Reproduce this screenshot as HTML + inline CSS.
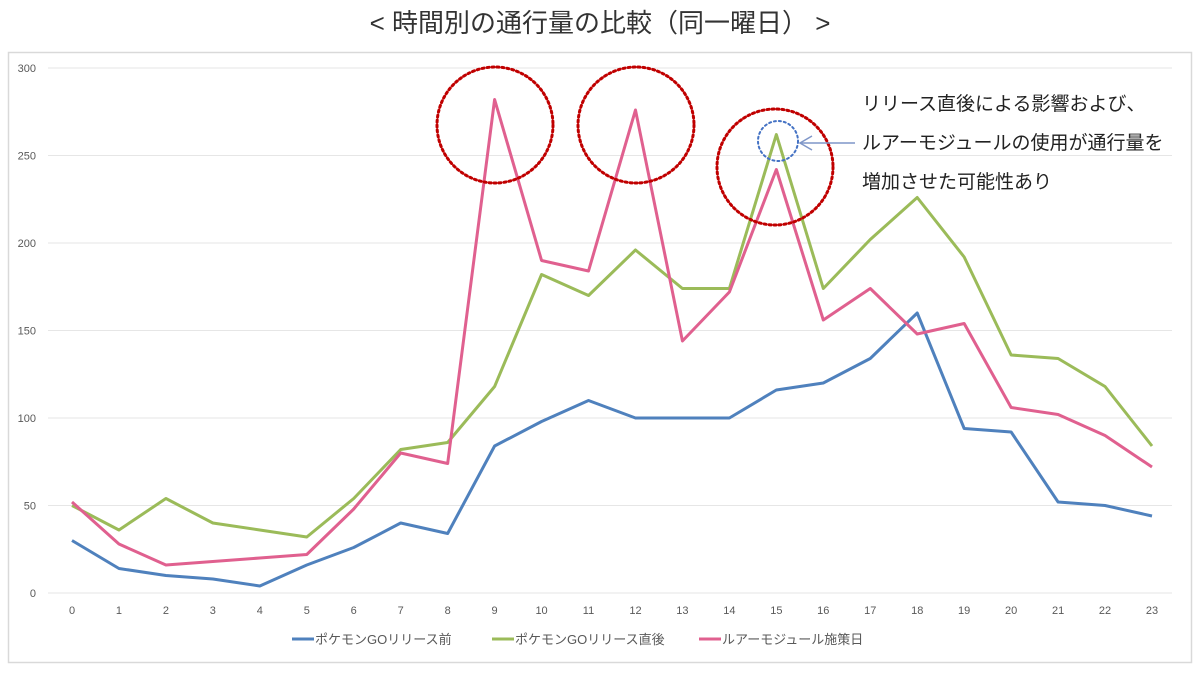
<!DOCTYPE html>
<html><head><meta charset="utf-8"><style>
body{margin:0;background:#fff;width:1200px;height:668px;overflow:hidden;font-family:"Liberation Sans","Noto Sans CJK JP",sans-serif}
</style></head><body>
<svg id="chart" width="1200" height="668" xmlns="http://www.w3.org/2000/svg" font-family="Liberation Sans, Noto Sans CJK JP, sans-serif">
<text x="600" y="32" text-anchor="middle" font-size="26" fill="#333">&lt; 時間別の通行量の比較（同一曜日） &gt;</text>
<rect x="8.5" y="52.5" width="1183" height="610" fill="none" stroke="#d9d9d9" stroke-width="1.5"/>
<g id="grid"></g><g id="series"></g>
<g fill="none" stroke-dasharray="2,3" stroke-linecap="round">
<circle cx="495" cy="125" r="58" stroke="#c00000" stroke-width="3"/>
<circle cx="636" cy="125" r="58" stroke="#c00000" stroke-width="3"/>
<circle cx="775" cy="167" r="58" stroke="#c00000" stroke-width="3"/>
<circle cx="778" cy="141" r="20" stroke="#4472c4" stroke-width="2"/>
</g>
<line x1="855" y1="143" x2="800" y2="143" stroke="#7f96c8" stroke-width="1.5"/>
<polyline points="812,136 800,143 812,150" fill="none" stroke="#7f96c8" stroke-width="1.5"/>
<g font-size="19" fill="#222">
<text x="862" y="110">リリース直後による影響および、</text>
<text x="862" y="149">ルアーモジュールの使用が通行量を</text>
<text x="862" y="188">増加させた可能性あり</text>
</g>
<g id="legend" font-size="13" fill="#595959"></g>
</svg>
<script>
const hours=[0,1,2,3,4,5,6,7,8,9,10,11,12,13,14,15,16,17,18,19,20,21,22,23];
const yTicks=[0,50,100,150,200,250,300];
const seriesNames=["ポケモンGOリリース前","ポケモンGOリリース直後","ルアーモジュール施策日"];
const beforeRelease=[30,14,10,8,4,16,26,40,34,84,98,110,100,100,100,116,120,134,160,94,92,52,50,44];
const afterRelease=[50,36,54,40,36,32,54,82,86,118,182,170,196,174,174,262,174,202,226,192,136,134,118,84];
const lureDay=[52,28,16,18,20,22,48,80,74,282,190,184,276,144,172,242,156,174,148,154,106,102,90,72];
const colors=["#4f81bd","#9bbb59","#e0608f"];
const NS="http://www.w3.org/2000/svg";
const xs=i=>72+i*(1152-72)/23;
const ys=v=>593-v*(593-68)/300;
const grid=document.getElementById('grid');
yTicks.forEach(t=>{
 const l=document.createElementNS(NS,'line');
 
 
 l.setAttribute('x1',48);l.setAttribute('x2',1172);l.setAttribute('y1',ys(t));l.setAttribute('y2',ys(t));
 l.setAttribute('stroke','#e6e6e6');l.setAttribute('stroke-width',1);
 grid.appendChild(l);
 const tx=document.createElementNS(NS,'text');
 
 
 tx.setAttribute('x',36);tx.setAttribute('y',ys(t)+4);tx.setAttribute('text-anchor','end');
 tx.setAttribute('font-size',11);tx.setAttribute('fill','#595959');tx.textContent=t;
 grid.appendChild(tx);
});
hours.forEach((h,i)=>{
 const tx=document.createElementNS(NS,'text');
 
 
 tx.setAttribute('x',xs(i));tx.setAttribute('y',614);tx.setAttribute('text-anchor','middle');
 tx.setAttribute('font-size',11);tx.setAttribute('fill','#595959');tx.textContent=h;
 grid.appendChild(tx);
});
const sg=document.getElementById('series');
[beforeRelease,afterRelease,lureDay].forEach((d,k)=>{
 const p=document.createElementNS(NS,'polyline');
 
 
 p.setAttribute('points',d.map((v,i)=>xs(i)+','+ys(v)).join(' '));
 p.setAttribute('fill','none');p.setAttribute('stroke',colors[k]);p.setAttribute('stroke-width',3);
 p.setAttribute('stroke-linejoin','round');
 sg.appendChild(p);
});
const lg=document.getElementById('legend');
const lx=[292,492,699];
seriesNames.forEach((n,k)=>{
 const l=document.createElementNS(NS,'line');
 
 
 l.setAttribute('x1',lx[k]);l.setAttribute('x2',lx[k]+22);l.setAttribute('y1',639);l.setAttribute('y2',639);
 l.setAttribute('stroke',colors[k]);l.setAttribute('stroke-width',3);
 lg.appendChild(l);
 const t=document.createElementNS(NS,'text');
 
 
 t.setAttribute('x',lx[k]+23);t.setAttribute('y',644);t.textContent=n;
 lg.appendChild(t);
});
</script>
</body></html>
